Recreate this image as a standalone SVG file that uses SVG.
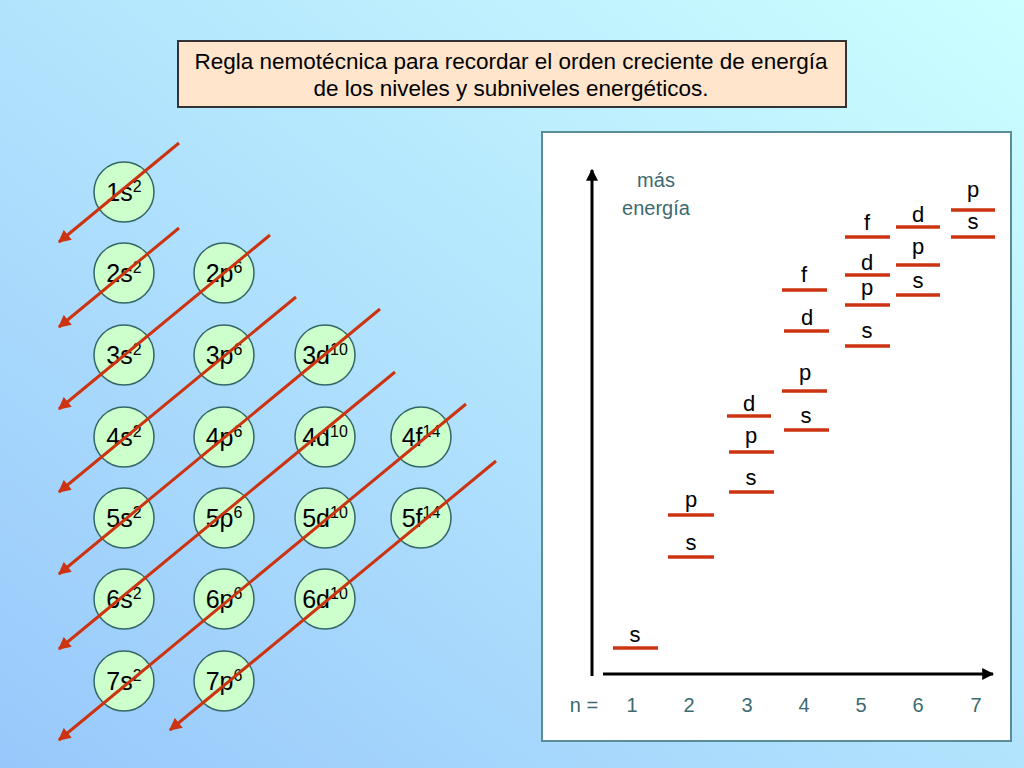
<svg xmlns="http://www.w3.org/2000/svg" width="1024" height="768" viewBox="0 0 1024 768">
<defs>
<linearGradient id="bg" x1="0" y1="1" x2="1" y2="0">
<stop offset="0" stop-color="#98c8fb"/>
<stop offset="1" stop-color="#ccffff"/>
</linearGradient>
<marker id="redhead" viewBox="0 0 10 10" refX="9" refY="5" markerWidth="4.5" markerHeight="4.2" orient="auto" markerUnits="strokeWidth">
<path d="M0,0 L10,5 L0,10 z" fill="#cc3311"/>
</marker>
<marker id="blackhead" viewBox="0 0 10 10" refX="9" refY="5" markerWidth="4" markerHeight="4" orient="auto" markerUnits="strokeWidth">
<path d="M0,0 L10,5 L0,10 z" fill="#000"/>
</marker>
<style>
.circ{fill:#ccffcc;stroke:#336666;stroke-width:1.5}
.ct{font-family:"Liberation Sans",Arial,sans-serif;font-size:25px;fill:#000;text-anchor:middle}
.sup{font-size:16px}
.arr{stroke:#cc3311;stroke-width:3;fill:none;marker-end:url(#redhead)}
.lvl{stroke:#cc3311;stroke-width:3.5}
.lt{font-family:"Liberation Sans",Arial,sans-serif;font-size:22px;fill:#000;text-anchor:middle}
.nt{font-family:"Liberation Sans",Arial,sans-serif;font-size:20px;fill:#3d6a70;text-anchor:middle}
.title{font-family:"Liberation Sans",Arial,sans-serif;font-size:22.5px;fill:#000;text-anchor:middle}
</style>
</defs>
<rect width="1024" height="768" fill="url(#bg)"/>

<g id="title">
<rect x="178" y="41" width="668" height="66" fill="#ffe5cc" stroke="#333" stroke-width="2"/>
<text class="title" x="511" y="69">Regla nemotécnica para recordar el orden creciente de energía</text>
<text class="title" x="511" y="96">de los niveles y subniveles energéticos.</text>
</g>

<g id="n1s"><circle class="circ" cx="124" cy="192" r="30"/><text class="ct" x="124" y="201">1s<tspan class="sup" dy="-9">2</tspan></text></g>
<g id="n2s"><circle class="circ" cx="124" cy="273" r="30"/><text class="ct" x="124" y="282">2s<tspan class="sup" dy="-9">2</tspan></text></g>
<g id="n2p"><circle class="circ" cx="224" cy="273" r="30"/><text class="ct" x="224" y="282">2p<tspan class="sup" dy="-9">6</tspan></text></g>
<g id="n3s"><circle class="circ" cx="124" cy="355" r="30"/><text class="ct" x="124" y="364">3s<tspan class="sup" dy="-9">2</tspan></text></g>
<g id="n3p"><circle class="circ" cx="224" cy="355" r="30"/><text class="ct" x="224" y="364">3p<tspan class="sup" dy="-9">6</tspan></text></g>
<g id="n3d"><circle class="circ" cx="325" cy="355" r="30"/><text class="ct" x="325" y="364">3d<tspan class="sup" dy="-9">10</tspan></text></g>
<g id="n4s"><circle class="circ" cx="124" cy="437" r="30"/><text class="ct" x="124" y="446">4s<tspan class="sup" dy="-9">2</tspan></text></g>
<g id="n4p"><circle class="circ" cx="224" cy="437" r="30"/><text class="ct" x="224" y="446">4p<tspan class="sup" dy="-9">6</tspan></text></g>
<g id="n4d"><circle class="circ" cx="325" cy="437" r="30"/><text class="ct" x="325" y="446">4d<tspan class="sup" dy="-9">10</tspan></text></g>
<g id="n4f"><circle class="circ" cx="421" cy="437" r="30"/><text class="ct" x="421" y="446">4f<tspan class="sup" dy="-9">14</tspan></text></g>
<g id="n5s"><circle class="circ" cx="124" cy="518" r="30"/><text class="ct" x="124" y="527">5s<tspan class="sup" dy="-9">2</tspan></text></g>
<g id="n5p"><circle class="circ" cx="224" cy="518" r="30"/><text class="ct" x="224" y="527">5p<tspan class="sup" dy="-9">6</tspan></text></g>
<g id="n5d"><circle class="circ" cx="325" cy="518" r="30"/><text class="ct" x="325" y="527">5d<tspan class="sup" dy="-9">10</tspan></text></g>
<g id="n5f"><circle class="circ" cx="421" cy="518" r="30"/><text class="ct" x="421" y="527">5f<tspan class="sup" dy="-9">14</tspan></text></g>
<g id="n6s"><circle class="circ" cx="124" cy="599" r="30"/><text class="ct" x="124" y="608">6s<tspan class="sup" dy="-9">2</tspan></text></g>
<g id="n6p"><circle class="circ" cx="224" cy="599" r="30"/><text class="ct" x="224" y="608">6p<tspan class="sup" dy="-9">6</tspan></text></g>
<g id="n6d"><circle class="circ" cx="325" cy="599" r="30"/><text class="ct" x="325" y="608">6d<tspan class="sup" dy="-9">10</tspan></text></g>
<g id="n7s"><circle class="circ" cx="124" cy="681" r="30"/><text class="ct" x="124" y="690">7s<tspan class="sup" dy="-9">2</tspan></text></g>
<g id="n7p"><circle class="circ" cx="224" cy="681" r="30"/><text class="ct" x="224" y="690">7p<tspan class="sup" dy="-9">6</tspan></text></g>

<g id="connectors">
<line class="arr" x1="179" y1="143" x2="59" y2="242"/>
<line class="arr" x1="179" y1="228" x2="59" y2="327"/>
<line class="arr" x1="270" y1="235" x2="59" y2="409"/>
<line class="arr" x1="296" y1="297" x2="59" y2="492"/>
<line class="arr" x1="380" y1="309" x2="59" y2="574"/>
<line class="arr" x1="395" y1="372" x2="59" y2="649"/>
<line class="arr" x1="466" y1="404" x2="59" y2="740"/>
<line class="arr" x1="496" y1="461" x2="170" y2="730"/>
</g>

<g id="chart">
<rect x="542" y="132" width="469" height="609" fill="#fff" stroke="#5b8d99" stroke-width="2"/>
<line x1="592" y1="676" x2="592" y2="170" stroke="#000" stroke-width="3" marker-end="url(#blackhead)"/>
<line x1="603" y1="674" x2="993" y2="674" stroke="#000" stroke-width="3" marker-end="url(#blackhead)"/>
<text class="nt" x="656" y="187">más</text>
<text class="nt" x="656" y="215">energía</text>
<text class="nt" x="584" y="712">n =</text>
<text class="nt" x="632" y="712">1</text>
<text class="nt" x="689" y="712">2</text>
<text class="nt" x="747" y="712">3</text>
<text class="nt" x="804" y="712">4</text>
<text class="nt" x="861" y="712">5</text>
<text class="nt" x="918" y="712">6</text>
<text class="nt" x="976" y="712">7</text>

<line class="lvl" x1="613" y1="648" x2="658" y2="648"/><text class="lt" x="635" y="642">s</text>
<line class="lvl" x1="668" y1="557" x2="714" y2="557"/><text class="lt" x="691" y="550">s</text>
<line class="lvl" x1="668" y1="515" x2="714" y2="515"/><text class="lt" x="691" y="507">p</text>
<line class="lvl" x1="729" y1="492" x2="774" y2="492"/><text class="lt" x="751" y="485">s</text>
<line class="lvl" x1="729" y1="452" x2="774" y2="452"/><text class="lt" x="751" y="443">p</text>
<line class="lvl" x1="727" y1="416" x2="771" y2="416"/><text class="lt" x="749" y="411">d</text>
<line class="lvl" x1="784" y1="430" x2="829" y2="430"/><text class="lt" x="806" y="423">s</text>
<line class="lvl" x1="782" y1="391" x2="827" y2="391"/><text class="lt" x="805" y="380">p</text>
<line class="lvl" x1="784" y1="331" x2="829" y2="331"/><text class="lt" x="807" y="325">d</text>
<line class="lvl" x1="782" y1="290" x2="827" y2="290"/><text class="lt" x="804" y="282">f</text>
<line class="lvl" x1="845" y1="346" x2="890" y2="346"/><text class="lt" x="867" y="338">s</text>
<line class="lvl" x1="845" y1="305" x2="890" y2="305"/><text class="lt" x="867" y="295">p</text>
<line class="lvl" x1="845" y1="275" x2="890" y2="275"/><text class="lt" x="867" y="270">d</text>
<line class="lvl" x1="845" y1="237" x2="890" y2="237"/><text class="lt" x="867" y="230">f</text>
<line class="lvl" x1="896" y1="295" x2="940" y2="295"/><text class="lt" x="918" y="288">s</text>
<line class="lvl" x1="896" y1="265" x2="940" y2="265"/><text class="lt" x="918" y="254">p</text>
<line class="lvl" x1="896" y1="227" x2="940" y2="227"/><text class="lt" x="918" y="222">d</text>
<line class="lvl" x1="951" y1="237" x2="995" y2="237"/><text class="lt" x="973" y="229">s</text>
<line class="lvl" x1="951" y1="210" x2="995" y2="210"/><text class="lt" x="973" y="197">p</text>
</g>
</svg>
